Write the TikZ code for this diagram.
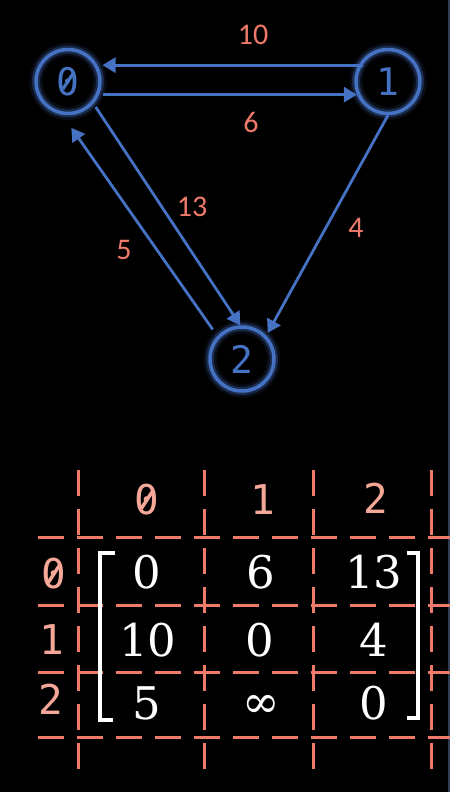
\documentclass[tikz,border=0pt]{standalone}
\usepackage{fontspec}
\setmainfont{Carlito}
\newfontfamily\monofont{DejaVu Sans Mono}
\newfontfamily\matfont{DejaVu Serif}
\usetikzlibrary{arrows.meta}
\definecolor{nodeblue}{RGB}{70,114,196}
\definecolor{salmon}{RGB}{240,122,105}
\definecolor{headpink}{RGB}{245,168,152}
\definecolor{edgegray}{RGB}{50,60,85}
\newcommand\slzero{\leavevmode\setbox0=\hbox{0}\rlap{0}\hbox to\wd0{\hss\raisebox{0.5\ht0}{\rotatebox[origin=c]{-33}{\rule[-0.33\ht0]{0.085em}{0.66\ht0}}}\hss}}
\begin{document}
\begin{tikzpicture}[x=1pt,y=-1pt,
  vertex/.style={circle, draw=nodeblue, line width=3.5pt, minimum size=64pt, inner sep=0pt,
    text=nodeblue, font=\monofont\fontsize{38}{38}\selectfont,
    preaction={draw=nodeblue, line width=13pt, opacity=0.12},
    preaction={draw=nodeblue, line width=8pt, opacity=0.3}},
  edgearrow/.style={draw=nodeblue, line width=2.8pt, -{Triangle[length=13pt,width=15pt]}},
  wlabel/.style={text=salmon, font=\fontsize{30}{30}\selectfont, inner sep=0pt},
  gridline/.style={draw=salmon, line width=3pt, dash pattern=on 26pt off 13pt},
  header/.style={text=headpink, font=\monofont\fontsize{41}{41}\selectfont, inner sep=0pt},
  entry/.style={text=white, font=\matfont\fontsize{45}{45}\selectfont, inner sep=0pt},
  bracket/.style={draw=white, line width=3.5pt}]
\fill[black] (0,0) rectangle (450,792);
\useasboundingbox (0,0) rectangle (450,792);
\draw[edgegray, line width=2pt] (449,0) -- (449,792);
% graph
\node[vertex] (n0) at (68,81.5) {\slzero};
\node[vertex] (n1) at (388,81.5) {1};
\node[vertex] (n2) at (242,359) {2};
\draw[edgearrow, shorten <=-5pt, shorten >=5pt] (n1.151) -- (n0.29);
\draw[edgearrow, shorten <=4pt] (n0.-23.4) -- (n1.203.4);
\draw[edgearrow, shorten <=4pt] (n0.-41) -- (n2.93);
\draw[edgearrow, shorten <=8pt, shorten >=16pt] (n2.137) -- (n0.-100);
\draw[edgearrow, shorten >=3pt] (n1.-90) -- (n2.44);
\node[wlabel] (l10) at (253,35) {10};
\node[wlabel] (l6) at (251,122) {6};
\node[wlabel] (l13) at (192,207) {13};
\node[wlabel] (l5) at (124,250) {5};
\node[wlabel] (l4) at (356,228) {4};
% grid
\foreach \gx in {78,204,313,431} {\draw[gridline] (\gx,470) -- (\gx,772);}
\foreach \gy in {537,605,672,737} {\draw[gridline] (38,\gy) -- (450,\gy);}
\node[header] (c0) at (147,500) {\slzero};
\node[header] (c1) at (263,500) {1};
\node[header] (c2) at (376,498) {2};
\node[header] (r0) at (54,574) {\slzero};
\node[header] (r1) at (52,640) {1};
\node[header] (r2) at (51,699) {2};
% matrix
\node[entry] (m00) at (147,572) {0};
\node[entry] (m01) at (261,572) {6};
\node[entry] (m02) at (374,572) {13};
\node[entry] (m10) at (148,640) {10};
\node[entry] (m11) at (260,640) {0};
\node[entry] (m12) at (374,640) {4};
\node[entry] (m20) at (147,703) {5};
\node[entry] (m21) at (261,706) {∞};
\node[entry] (m22) at (374,703) {0};
\draw[bracket] (115,553) -- (100,553) -- (100,720) -- (113,720);
\draw[bracket] (407,553) -- (418,553) -- (418,718) -- (407,718);
\end{tikzpicture}
\end{document}
